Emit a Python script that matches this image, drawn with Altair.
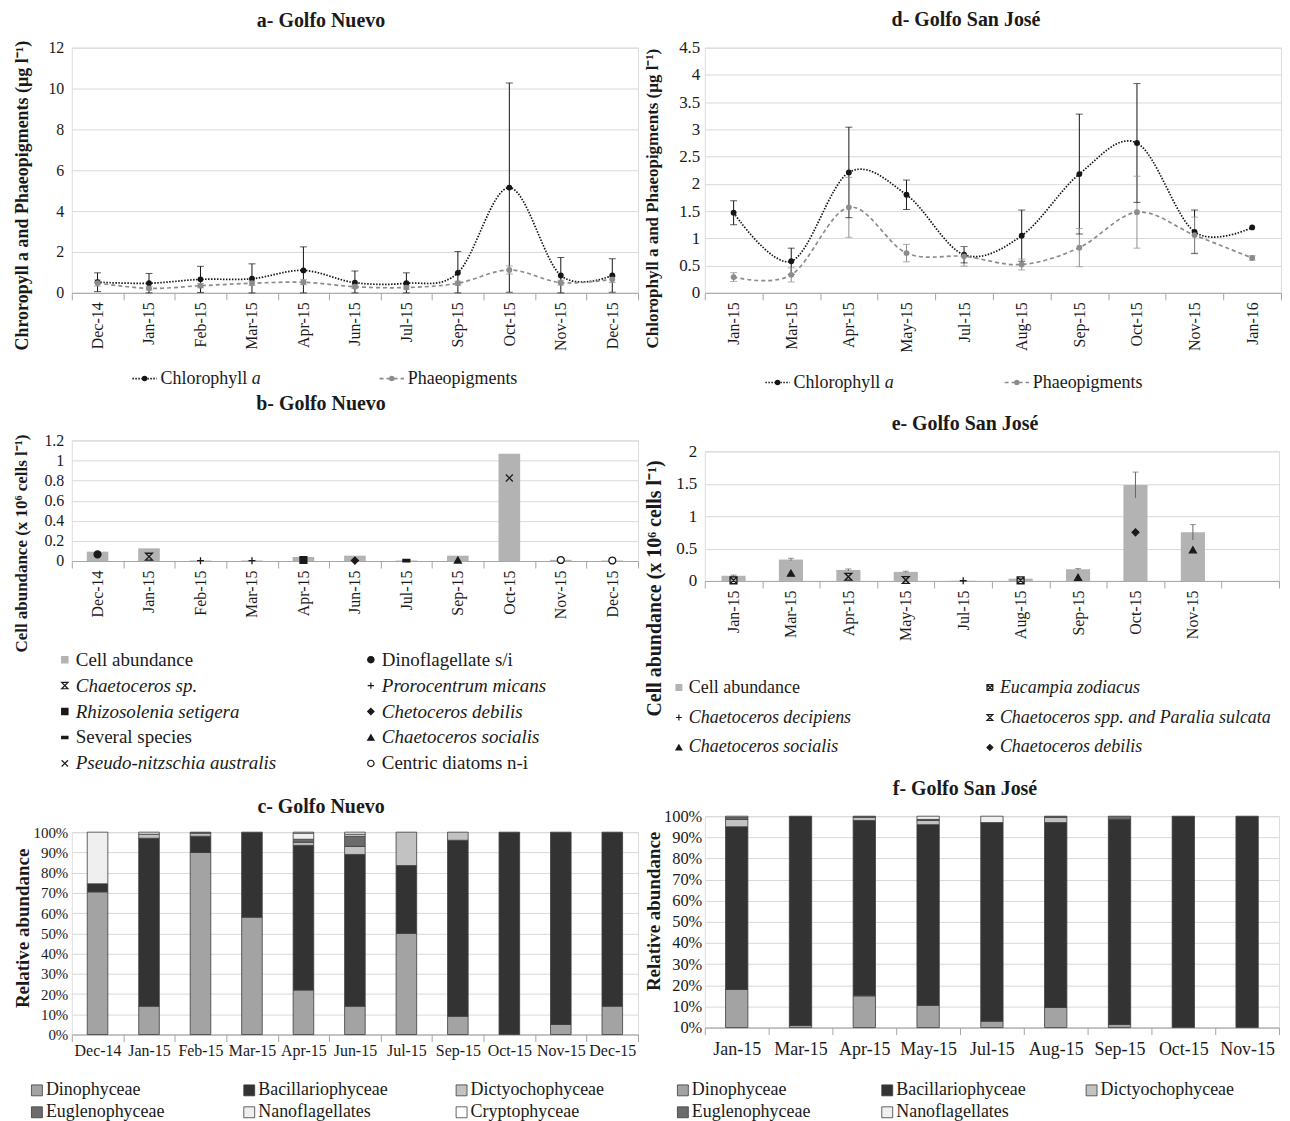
import altair as alt
import pandas as pd

FONT = "Liberation Serif"
INK = "#1a1a1a"
GRID = "#d9d9d9"
AXIS_GRAY = "#a6a6a6"
BAR_GRAY = "#b3b3b3"
CHL_COLOR = "#151515"
PHA_COLOR = "#8c8c8c"
SERIES = ["Chlorophyll a", "Phaeopigments"]

# ---------------- a- Golfo Nuevo (pigments) ----------------
a_months = ["Dec-14", "Jan-15", "Feb-15", "Mar-15", "Apr-15", "Jun-15", "Jul-15",
            "Sep-15", "Oct-15", "Nov-15", "Dec-15"]
a_chl = [0.52, 0.47, 0.66, 0.69, 1.10, 0.50, 0.47, 0.98, 5.15, 0.85, 0.85]
a_chl_err = [0.46, 0.48, 0.64, 0.73, 1.15, 0.57, 0.51, 1.04, 5.12, 0.88, 0.82]
a_pha = [0.48, 0.22, 0.35, 0.47, 0.52, 0.30, 0.26, 0.47, 1.12, 0.50, 0.66]
a_pha_err = [0.15, 0.08, 0.10, 0.10, 0.12, 0.08, 0.08, 0.10, 0.20, 0.12, 0.15]
a_ticks = [0, 2, 4, 6, 8, 10, 12]

# ---------------- d- Golfo San José (pigments) ----------------
d_months = ["Jan-15", "Mar-15", "Apr-15", "May-15", "Jul-15", "Aug-15", "Sep-15",
            "Oct-15", "Nov-15", "Jan-16"]
d_chl = [1.47, 0.58, 2.21, 1.80, 0.70, 1.05, 2.18, 2.75, 1.12, 1.20]
d_chl_err = [0.22, 0.24, 0.83, 0.27, 0.15, 0.47, 1.10, 1.09, 0.40, 0.0]
d_pha = [0.29, 0.33, 1.57, 0.73, 0.67, 0.52, 0.83, 1.48, 1.06, 0.64]
d_pha_err = [0.08, 0.13, 0.55, 0.16, 0.18, 0.10, 0.35, 0.66, 0.33, 0.04]
d_ticks = [0, 0.5, 1, 1.5, 2, 2.5, 3, 3.5, 4, 4.5]

# ---------------- b- Golfo Nuevo (cell abundance) ----------------
b_months = a_months
b_cells = [0.093, 0.126, 0.005, 0.005, 0.040, 0.053, 0.005, 0.053, 1.068, 0.012, 0.005]
b_cells_err = [0.0] * 11
b_species = ["Dinoflagellate s/i", "Chaetoceros sp.", "Prorocentrum micans",
             "Prorocentrum micans", "Rhizosolenia setigera", "Chetoceros debilis",
             "Several species", "Chaetoceros socialis", "Pseudo-nitzschia australis",
             "Centric diatoms n-i", "Centric diatoms n-i"]
b_species_val = [0.066, 0.043, 0.003, 0.003, 0.010, 0.005, 0.003, 0.010, 0.826, 0.010, 0.005]
b_legend = ["Cell abundance", "Dinoflagellate s/i", "Chaetoceros sp.", "Prorocentrum micans",
            "Rhizosolenia setigera", "Chetoceros debilis", "Several species",
            "Chaetoceros socialis", "Pseudo-nitzschia australis", "Centric diatoms n-i"]
b_ticks = [0, 0.2, 0.4, 0.6, 0.8, 1, 1.2]

# ---------------- e- Golfo San José (cell abundance) ----------------
e_months = ["Jan-15", "Mar-15", "Apr-15", "May-15", "Jul-15", "Aug-15", "Sep-15",
            "Oct-15", "Nov-15"]
e_axis_months = e_months + [" "]
e_cells = [0.08, 0.33, 0.17, 0.14, 0.005, 0.035, 0.18, 1.48, 0.75]
e_cells_err = [0.01, 0.02, 0.015, 0.01, 0.0, 0.005, 0.01, 0.20, 0.12]
e_species = ["Eucampia zodiacus", "Chaetoceros socialis",
             "Chaetoceros spp. and Paralia sulcata", "Chaetoceros spp. and Paralia sulcata",
             "Chaetoceros decipiens", "Eucampia zodiacus", "Chaetoceros socialis",
             "Chaetoceros debilis", "Chaetoceros socialis"]
e_species_val = [0.010, 0.120, 0.065, 0.015, 0.003, 0.010, 0.056, 0.750, 0.480]
e_legend = ["Cell abundance", "Eucampia zodiacus", "Chaetoceros decipiens",
            "Chaetoceros spp. and Paralia sulcata", "Chaetoceros socialis",
            "Chaetoceros debilis"]
e_ticks = [0, 0.5, 1, 1.5, 2]

# ---------------- c / f relative abundance (%) ----------------
c_classes = ["Dinophyceae", "Bacillariophyceae", "Dictyochophyceae", "Euglenophyceae",
             "Nanoflagellates", "Cryptophyceae"]
c_months = a_months
c_dino = [70.5, 14, 90, 58, 22, 14, 50, 9, 0, 5, 14]
c_bac = [4, 83, 8, 42, 71.5, 75, 33.5, 87, 100, 95, 86]
c_dict = [0, 2, 1.5, 0, 1.5, 4, 16.5, 4, 0, 0, 0]
c_eugl = [0, 0, 0.5, 0, 1.5, 5, 0, 0, 0, 0, 0]
c_nano = [25.5, 1, 0, 0, 3, 1, 0, 0, 0, 0, 0]
c_crypto = [0, 0, 0, 0, 0.5, 1, 0, 0, 0, 0, 0]

f_classes = c_classes[:5]
f_months = e_months
f_dino = [18, 1, 15, 10.5, 3, 9.5, 1.5, 0, 0]
f_bac = [77, 99, 83, 85.5, 94, 87.5, 97, 100, 100]
f_dict = [3.5, 0, 1.5, 2, 0, 2.5, 0, 0, 0]
f_eugl = [1, 0, 0.5, 0.5, 0, 0.5, 1.5, 0, 0]
f_nano = [0.5, 0, 0, 1.5, 3, 0, 0, 0, 0]
pct_ticks = [0, 10, 20, 30, 40, 50, 60, 70, 80, 90, 100]

# ---------------- styles ----------------
SH_X = "M-1,-1L1,1M-1,1L1,-1"
SH_PLUS = "M-1,0H1M0,-1V1"
SH_HOUR = "M-1,-1H1L-1,1H1Z"
SH_DASH = "M-1,-0.35H1V0.35H-1Z"
SH_BOXX = "M-1,-1H1V1H-1ZM-1,-1L1,1M-1,1L1,-1"
SH_LINE = "M-1,0H1"

MARKER_STYLE = {
    "Cell abundance": ("square", BAR_GRAY, BAR_GRAY),
    "Dinoflagellate s/i": ("circle", INK, INK),
    "Chaetoceros sp.": (SH_HOUR, "transparent", INK),
    "Prorocentrum micans": (SH_PLUS, "transparent", INK),
    "Rhizosolenia setigera": ("square", INK, INK),
    "Chetoceros debilis": ("diamond", INK, INK),
    "Several species": (SH_DASH, INK, INK),
    "Chaetoceros socialis": ("triangle-up", INK, INK),
    "Pseudo-nitzschia australis": (SH_X, "transparent", INK),
    "Centric diatoms n-i": ("circle", "white", INK),
    "Eucampia zodiacus": (SH_BOXX, "transparent", INK),
    "Chaetoceros decipiens": (SH_PLUS, "transparent", INK),
    "Chaetoceros spp. and Paralia sulcata": (SH_HOUR, "transparent", INK),
    "Chaetoceros debilis": ("diamond", INK, INK),
}
UPRIGHT = {"Cell abundance", "Dinoflagellate s/i", "Several species", "Centric diatoms n-i"}

CLASS_COLORS = {"Dinophyceae": "#a3a3a3", "Bacillariophyceae": "#333333",
                "Dictyochophyceae": "#c2c2c2", "Euglenophyceae": "#6b6b6b",
                "Nanoflagellates": "#efefef", "Cryptophyceae": "#ffffff"}

IND = dict(x="independent", y="independent", color="independent", shape="independent",
           fill="independent", stroke="independent", strokeDash="independent")


def title_params(text, offset, dx):
    return alt.TitleParams(text, font=FONT, fontSize=20, fontWeight="bold", color=INK,
                           offset=offset, anchor="middle", dx=dx)


def y_axis(title, values, ext, title_y, title_size, label_size, label_pad, title_pad,
           fmt=None, label_expr=None):
    kw = dict(title=title, values=values, domain=False, ticks=False, grid=True,
              gridColor=GRID, gridWidth=1, labelFont=FONT, labelFontSize=label_size,
              labelColor=INK, labelPadding=label_pad, titleFont=FONT, titleFontSize=title_size,
              titleFontWeight="bold", titleColor=INK, titlePadding=title_pad,
              minExtent=ext, maxExtent=ext, titleY=title_y)
    if fmt:
        kw["format"] = fmt
    if label_expr:
        kw["labelExpr"] = label_expr
    return alt.Axis(**kw)


def x_axis(angle, size, pad):
    return alt.Axis(title=None, labelAngle=angle, labelFont=FONT, labelFontSize=size,
                    labelColor=INK, domainColor=AXIS_GRAY, tickColor=AXIS_GRAY, tickSize=7,
                    tickBand="extent", grid=False, labelPadding=pad)


def grid_scales(x0, colw, y0, rowh):
    X = alt.X("col:Q", axis=None,
              scale=alt.Scale(domain=[0, 1], range=[x0, x0 + colw], nice=False, zero=False))
    Y = alt.Y("row:Q", axis=None,
              scale=alt.Scale(domain=[0, 1], range=[y0, y0 + rowh], nice=False, zero=False))
    return X, Y


# ---------------- legend layers (drawn below each plot) ----------------
def line_legend_layer(x0, colw, y0, font_size):
    df = pd.DataFrame({"series": SERIES, "col": [0, 1], "row": [0, 0],
                       "name": ["Chlorophyll", "Phaeopigments"], "suffix": ["a", ""]})
    X, Y = grid_scales(x0, colw, y0, 20)
    col = alt.Color("series:N", scale=alt.Scale(domain=SERIES, range=[CHL_COLOR, PHA_COLOR]), legend=None)
    dash = alt.StrokeDash("series:N", scale=alt.Scale(domain=SERIES, range=[[1.5, 1.5], [4, 3]]),
                          legend=None)
    base = alt.Chart(df)
    seg = base.mark_point(shape=SH_LINE, size=600, strokeWidth=1.6, filled=False, opacity=1).encode(
        x=X, y=Y, color=col, strokeDash=dash)
    dot = base.mark_point(shape="circle", size=30, filled=True, opacity=1).encode(x=X, y=Y, color=col)
    txt = base.mark_text(align="left", baseline="middle", dx=16, font=FONT, fontSize=font_size,
                         color=INK).encode(x=X, y=Y, text="name:N")
    suf = base.transform_filter("datum.suffix != ''").mark_text(
        align="left", baseline="middle", dx=16 + 5.084 * font_size, font=FONT, fontSize=font_size,
        color=INK, fontStyle="italic").encode(x=X, y=Y, text="suffix:N")
    return alt.layer(seg, dot, txt, suf)


def marker_legend_layer(labels, ncols, x0, colw, y0, rowh, font_size, msize, text_dx, spacer=None):
    df = pd.DataFrame({"label": labels,
                       "col": [i % ncols for i in range(len(labels))],
                       "row": [i // ncols for i in range(len(labels))],
                       "it": [lab not in UPRIGHT for lab in labels]})
    X, Y = grid_scales(x0, colw, y0, rowh)
    base = alt.Chart(df)
    pts = base.mark_point(filled=True, size=msize, strokeWidth=1.2, opacity=1).encode(
        x=X, y=Y,
        shape=alt.Shape("label:N", legend=None,
                        scale=alt.Scale(domain=labels, range=[MARKER_STYLE[l][0] for l in labels])),
        fill=alt.Fill("label:N", legend=None,
                      scale=alt.Scale(domain=labels, range=[MARKER_STYLE[l][1] for l in labels])),
        stroke=alt.Stroke("label:N", legend=None,
                          scale=alt.Scale(domain=labels, range=[MARKER_STYLE[l][2] for l in labels])))
    t_up = base.transform_filter("!datum.it").mark_text(
        align="left", baseline="middle", dx=text_dx, font=FONT, fontSize=font_size, color=INK
    ).encode(x=X, y=Y, text="label:N")
    t_it = base.transform_filter("datum.it").mark_text(
        align="left", baseline="middle", dx=text_dx, font=FONT, fontSize=font_size, color=INK,
        fontStyle="italic").encode(x=X, y=Y, text="label:N")
    layers = [pts, t_up, t_it]
    if spacer is not None:
        # invisible layout spacer that reserves room below the legend
        layers.append(base.mark_rule(opacity=0, strokeOpacity=0).encode(
            x=alt.value(0), x2=alt.value(1), y=alt.value(spacer)))
    return alt.layer(*layers)


def class_legend_layer(classes, ncols, x0, colw, y0, rowh, font_size, text_dx):
    df = pd.DataFrame({"label": classes,
                       "col": [i % ncols for i in range(len(classes))],
                       "row": [i // ncols for i in range(len(classes))]})
    X, Y = grid_scales(x0, colw, y0, rowh)
    base = alt.Chart(df)
    sq = base.mark_point(filled=True, shape="square", size=120, stroke="#3c3c3c",
                         strokeWidth=0.8, opacity=1).encode(
        x=X, y=Y,
        fill=alt.Fill("label:N", legend=None,
                      scale=alt.Scale(domain=classes, range=[CLASS_COLORS[c] for c in classes])))
    txt = base.mark_text(align="left", baseline="middle", dx=text_dx, font=FONT,
                         fontSize=font_size, color=INK).encode(x=X, y=Y, text="label:N")
    return alt.layer(sq, txt)


# ---------------- panel builders ----------------
def line_panel(months, chl, chl_err, pha, pha_err, ticks, title, ytitle, width, height,
               yax_kw, title_off, title_dx, legend):
    recs = []
    for s, vals, errs in ((SERIES[0], chl, chl_err), (SERIES[1], pha, pha_err)):
        for m, v, e in zip(months, vals, errs):
            recs.append({"month": m, "series": s, "value": v, "err": e,
                         "lo": max(0.0, v - e), "hi": v + e})
    df = pd.DataFrame(recs)
    x = alt.X("month:N", scale=alt.Scale(domain=months, paddingInner=0, paddingOuter=0),
              axis=x_axis(-90, 16, 2))
    ys = alt.Scale(domain=[ticks[0], ticks[-1]], nice=False)
    yax = y_axis(ytitle, ticks, fmt="~g", **yax_kw)
    col = alt.Color("series:N", scale=alt.Scale(domain=SERIES, range=[CHL_COLOR, PHA_COLOR]),
                    legend=None)
    dash = alt.StrokeDash("series:N", scale=alt.Scale(domain=SERIES, range=[[1.5, 1.5], [4, 3]]),
                          legend=None)
    base = alt.Chart(df)
    line = base.mark_line(interpolate="cardinal", strokeWidth=1.7).encode(
        x=x, y=alt.Y("value:Q", scale=ys, axis=yax), color=col, strokeDash=dash)
    ebase = base.transform_filter("datum.err > 0")
    rule = ebase.mark_rule(strokeWidth=1).encode(
        x=x, y=alt.Y("lo:Q", scale=ys, axis=yax), y2="hi:Q", color=col)
    cap_hi = ebase.mark_tick(size=7, thickness=1).encode(
        x=x, y=alt.Y("hi:Q", scale=ys, axis=yax), color=col)
    cap_lo = ebase.mark_tick(size=7, thickness=1).encode(
        x=x, y=alt.Y("lo:Q", scale=ys, axis=yax), color=col)
    pts = base.mark_point(filled=True, size=34, opacity=1).encode(
        x=x, y=alt.Y("value:Q", scale=ys, axis=yax), color=col)
    plot = alt.layer(line, rule, cap_hi, cap_lo, pts)
    return alt.layer(plot, legend).resolve_scale(**IND).properties(
        width=width, height=height, title=title_params(title, title_off, title_dx))


def bar_panel(axis_months, months, cells, cells_err, sp_names, sp_vals, ticks, title, ytitle,
              width, height, yax_kw, title_off, title_dx, legend):
    bdf = pd.DataFrame({"month": months, "cells": cells, "err": cells_err})
    bdf["lo"] = bdf["cells"] - bdf["err"]
    bdf["hi"] = bdf["cells"] + bdf["err"]
    sdf = pd.DataFrame({"month": months, "species": sp_names, "value": sp_vals})
    x = alt.X("month:N", scale=alt.Scale(domain=axis_months, paddingInner=0, paddingOuter=0),
              axis=x_axis(-90, 16, 2))
    ys = alt.Scale(domain=[ticks[0], ticks[-1]], nice=False)
    yax = y_axis(ytitle, ticks, fmt="~g", **yax_kw)
    bars = alt.Chart(bdf).mark_bar(color=BAR_GRAY, width=alt.RelativeBandSize(0.42)).encode(
        x=x, y=alt.Y("cells:Q", scale=ys, axis=yax))
    eb = alt.Chart(bdf).transform_filter("datum.err > 0")
    rule = eb.mark_rule(strokeWidth=1, color="#666666").encode(
        x=x, y=alt.Y("lo:Q", scale=ys, axis=yax), y2="hi:Q")
    cap = eb.mark_tick(size=6, thickness=1, color="#666666").encode(
        x=x, y=alt.Y("hi:Q", scale=ys, axis=yax))
    sp_dom = list(dict.fromkeys(sp_names))
    pts = alt.Chart(sdf).mark_point(filled=True, size=48, strokeWidth=1.3, opacity=1).encode(
        x=x, y=alt.Y("value:Q", scale=ys, axis=yax),
        shape=alt.Shape("species:N", legend=None,
                        scale=alt.Scale(domain=sp_dom, range=[MARKER_STYLE[s][0] for s in sp_dom])),
        fill=alt.Fill("species:N", legend=None,
                      scale=alt.Scale(domain=sp_dom, range=[MARKER_STYLE[s][1] for s in sp_dom])),
        stroke=alt.Stroke("species:N", legend=None,
                          scale=alt.Scale(domain=sp_dom, range=[MARKER_STYLE[s][2] for s in sp_dom])))
    plot = alt.layer(bars, rule, cap, pts)
    return alt.layer(plot, legend).resolve_scale(**IND).properties(
        width=width, height=height, title=title_params(title, title_off, title_dx))


def stack_panel(months, classes, comps, title, width, height, yax_kw, title_off, title_dx,
                xlabel_size, xlabel_pad, bar_frac, legend):
    recs = []
    for k, (cls, vals) in enumerate(zip(classes, comps)):
        for m, v in zip(months, vals):
            recs.append({"month": m, "cls": cls, "value": v, "k": k})
    df = pd.DataFrame(recs)
    x = alt.X("month:N", scale=alt.Scale(domain=months, paddingInner=0, paddingOuter=0),
              axis=x_axis(0, xlabel_size, xlabel_pad))
    y = alt.Y("value:Q", stack="zero", scale=alt.Scale(domain=[0, 100], nice=False),
              axis=y_axis("Relative abundance", pct_ticks, label_expr="datum.value + '%'", **yax_kw))
    bars = alt.Chart(df).transform_filter("datum.value > 0").mark_bar(
        width=alt.RelativeBandSize(bar_frac), stroke="#3c3c3c", strokeWidth=0.8).encode(
        x=x, y=y,
        color=alt.Color("cls:N", legend=None,
                        scale=alt.Scale(domain=classes, range=[CLASS_COLORS[c] for c in classes])),
        order=alt.Order("k:Q", sort="ascending"))
    return alt.layer(bars, legend).resolve_scale(**IND).properties(
        width=width, height=height, title=title_params(title, title_off, title_dx))


# ---------------- panels ----------------
panel_a = line_panel(
    a_months, a_chl, a_chl_err, a_pha, a_pha_err, a_ticks, "a- Golfo Nuevo",
    "Chroropyll a and Phaeopigments (µg l⁻¹)", 568, 246,
    dict(ext=30, title_y=148, title_size=18, label_size=16, label_pad=8, title_pad=10), 9, -34,
    line_legend_layer(73, 248, 332, 18))

panel_b = bar_panel(
    b_months, b_months, b_cells, b_cells_err, b_species, b_species_val, b_ticks,
    "b- Golfo Nuevo", "Cell abundance (x 10⁶ cells l⁻¹)", 568, 121,
    dict(ext=30, title_y=103, title_size=17, label_size=16, label_pad=8, title_pad=11), 18, -34,
    marker_legend_layer(b_legend, 2, -7, 307, 220, 26, 19, 40, 11, spacer=351))

panel_c = stack_panel(
    c_months, c_classes, [c_dino, c_bac, c_dict, c_eugl, c_nano, c_crypto],
    "c- Golfo Nuevo", 568, 203,
    dict(ext=39, title_y=96, title_size=19, label_size=15, label_pad=4, title_pad=0), 8, -34,
    16, 1, 0.4,
    class_legend_layer(c_classes, 3, -35, 213, 259, 22, 18, 9))

panel_d = line_panel(
    d_months, d_chl, d_chl_err, d_pha, d_pha_err, d_ticks, "d- Golfo San José",
    "Chlorophyll a and Phaeopigments (µg l⁻¹)", 578, 246,
    dict(ext=27, title_y=151, title_size=17, label_size=17, label_pad=5, title_pad=16), 8.5, -27,
    line_legend_layer(73, 240, 336, 18))

panel_e = bar_panel(
    e_axis_months, e_months, e_cells, e_cells_err, e_species, e_species_val, e_ticks,
    "e- Golfo San José", "Cell abundance (x 10⁶ cells l⁻¹)", 576, 130,
    dict(ext=30, title_y=137, title_size=20, label_size=17, label_pad=8, title_pad=10), 8, -27,
    marker_legend_layer(e_legend, 2, -26, 312, 237, 30, 18, 34, 10))

panel_f = stack_panel(
    f_months, f_classes, [f_dino, f_bac, f_dict, f_eugl, f_nano],
    "f- Golfo San José", 576, 212,
    dict(ext=41, title_y=95, title_size=19, label_size=16.5, label_pad=3, title_pad=0), 9, -27,
    18, 6, 0.35,
    class_legend_layer(f_classes, 3, -22, 205, 275, 22, 18, 9))

left = alt.vconcat(panel_a, panel_b, panel_c, spacing=5).resolve_scale(**IND)
right = alt.vconcat(panel_d, panel_e, panel_f, spacing=21).resolve_scale(**IND)

chart = alt.hconcat(left, right, spacing=4).resolve_scale(**IND).properties(
    padding={"left": 4, "top": 0, "right": 0, "bottom": 0}
).configure_view(strokeWidth=0).configure(background="white")

chart.save("out.html", embed_options={"renderer": "svg", "actions": False})
